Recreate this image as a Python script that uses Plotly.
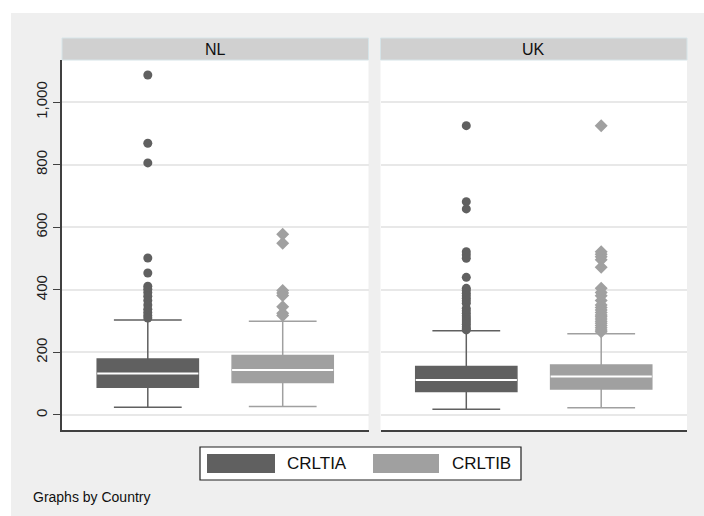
import plotly.graph_objects as go
from plotly.subplots import make_subplots

# ---------------- data ----------------
countries = ["NL", "UK"]
variables = ["CRLTIA", "CRLTIB"]

# box statistics per country, order = variables
lower_whisker = {"NL": [25, 27], "UK": [18, 23]}
q1 = {"NL": [89, 104], "UK": [75, 83]}
median = {"NL": [133, 144], "UK": [112, 123]}
q3 = {"NL": [179, 190], "UK": [155, 160]}
upper_whisker = {"NL": [304, 300], "UK": [269, 260]}

outliers_NL_A = [1087, 869, 806, 502, 454, 412, 402, 392, 380, 366, 352, 338, 328, 318, 310]
outliers_NL_B = [578, 549, 398, 390, 382, 346, 325, 318]
outliers_UK_A = [925, 682, 659, 522, 512, 501, 440, 405, 398, 389, 381, 373, 365, 357,
                 341, 333, 325, 317, 310, 304, 297, 290, 282, 276, 272]
outliers_UK_B = [925, 522, 514, 506, 496, 472, 405, 392, 381, 366, 352, 344, 336, 328,
                 320, 314, 307, 300, 293, 286, 279, 272, 266]
outliers = {"NL": [outliers_NL_A, outliers_NL_B], "UK": [outliers_UK_A, outliers_UK_B]}

y_tickvals = [0, 200, 400, 600, 800, 1000]
y_ticktext = ["0", "200", "400", "600", "800", "1,000"]

# ---------------- style ----------------
COLORS = ["#606060", "#a0a0a0"]
SYMBOLS = ["circle", "diamond"]
BOX_POS = [0, 1]
BOX_W = 0.75
BG = "#efefef"
AXIS = "#404040"
FONT = "Liberation Sans, Arial, sans-serif"

W, H = 704, 516
ML, MR, MT, MB = 62, 17, 60, 86
PW, PH = W - ML - MR, H - MT - MB


def px2x(px):
    return (px - ML) / PW


def py2y(py):
    return (H - MB - py) / PH


fig = make_subplots(rows=1, cols=2, shared_yaxes=True, horizontal_spacing=12 / PW)

for c, country in enumerate(countries):
    for i, var in enumerate(variables):
        col = COLORS[i]
        fig.add_trace(go.Box(
            x=[BOX_POS[i]], q1=[q1[country][i]], median=[median[country][i]],
            q3=[q3[country][i]], lowerfence=[lower_whisker[country][i]],
            upperfence=[upper_whisker[country][i]],
            width=BOX_W, whiskerwidth=0.67, fillcolor=col,
            line=dict(color=col, width=1.5), boxpoints=False, showlegend=False,
            hoverinfo="skip"), row=1, col=c + 1)
        fig.add_trace(go.Scatter(
            x=[BOX_POS[i] - BOX_W / 2, BOX_POS[i] + BOX_W / 2],
            y=[median[country][i], median[country][i]], mode="lines",
            line=dict(color="white", width=2), showlegend=False, hoverinfo="skip"),
            row=1, col=c + 1)
        fig.add_trace(go.Scatter(
            x=[BOX_POS[i]] * len(outliers[country][i]), y=outliers[country][i],
            mode="markers", marker=dict(symbol=SYMBOLS[i], size=9 if i == 0 else 10,
                                        color=col, line=dict(width=0)),
            showlegend=False, hoverinfo="skip"), row=1, col=c + 1)

xr = [-0.636, 1.636]
fig.update_xaxes(range=xr, showticklabels=False, showgrid=False, zeroline=False,
                 showline=True, linecolor=AXIS, linewidth=1.5, ticks="", fixedrange=True)
fig.update_yaxes(range=[-48, 1135], tickvals=y_tickvals, ticktext=y_ticktext,
                 tickangle=-90, gridcolor="#e8e8e8", gridwidth=1.5, zeroline=False,
                 tickfont=dict(size=15, color="#202020", family=FONT))
fig.update_yaxes(ticks="outside", ticklen=7, tickcolor=AXIS, tickwidth=1,
                 showline=True, linecolor=AXIS, linewidth=1.5, row=1, col=1)
fig.update_yaxes(ticks="", showline=False, showticklabels=False, row=1, col=2)

shapes = []
annotations = []
# white margin at top and left
shapes.append(dict(type="rect", xref="paper", yref="paper", x0=px2x(-5), x1=px2x(11),
                   y0=py2y(H + 5), y1=py2y(-5), fillcolor="white", line=dict(width=0)))
shapes.append(dict(type="rect", xref="paper", yref="paper", x0=px2x(-5), x1=px2x(W + 5),
                   y0=py2y(13), y1=py2y(-5), fillcolor="white", line=dict(width=0)))

# strips
for c, country in enumerate(countries):
    dom = fig.layout["xaxis" if c == 0 else "xaxis2"].domain
    shapes.append(dict(type="rect", xref="paper", yref="paper", x0=dom[0], x1=dom[1],
                       y0=py2y(60), y1=py2y(38), fillcolor="#d0d0d0",
                       line=dict(color="#d6e4e8", width=1)))
    annotations.append(dict(text=country, xref="paper", yref="paper",
                            x=(dom[0] + dom[1]) / 2, y=py2y(49.5), showarrow=False,
                            xanchor="center", yanchor="middle",
                            font=dict(size=16, color="#101010", family=FONT)))

# legend
shapes.append(dict(type="rect", xref="paper", yref="paper", x0=px2x(200), x1=px2x(521),
                   y0=py2y(480), y1=py2y(447), fillcolor="white",
                   line=dict(color="#202020", width=1.2)))
sw = [(207, 275, 285), (373, 439, 450)]
for i, var in enumerate(variables):
    a, b, t = sw[i]
    shapes.append(dict(type="rect", xref="paper", yref="paper", x0=px2x(a), x1=px2x(b),
                       y0=py2y(473), y1=py2y(454), fillcolor=COLORS[i],
                       line=dict(width=0)))
    annotations.append(dict(text=var, xref="paper", yref="paper", x=px2x(t),
                            y=py2y(463.5), showarrow=False, xanchor="left",
                            yanchor="middle",
                            font=dict(size=17, color="#101010", family=FONT)))

annotations.append(dict(text="Graphs by Country", xref="paper", yref="paper",
                        x=px2x(31), y=py2y(497), showarrow=False, xanchor="left",
                        yanchor="middle", font=dict(size=14, color="#101010", family=FONT)))

fig.update_layout(width=W, height=H, margin=dict(l=ML, r=MR, t=MT, b=MB),
                  paper_bgcolor=BG, plot_bgcolor="white", shapes=shapes,
                  annotations=annotations, showlegend=False,
                  font=dict(family=FONT))

fig.write_html("out.html")
